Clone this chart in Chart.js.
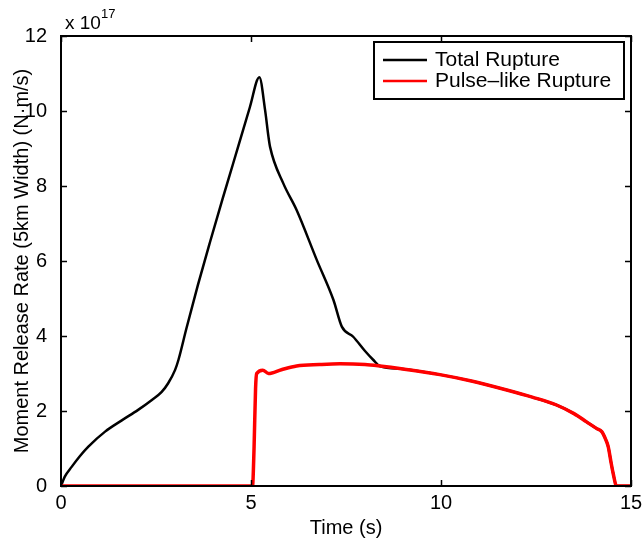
<!DOCTYPE html>
<html>
<head>
<meta charset="utf-8">
<script src="https://cdn.jsdelivr.net/npm/chart.js@4.4.1/dist/chart.umd.min.js"></script>
<style>
  html, body { margin: 0; padding: 0; background: #fff; }
  #wrap { width: 644px; height: 539px; }
</style>
</head>
<body>
<div id="wrap"><canvas id="momentChart" width="644" height="539"></canvas></div>
<script>
// =====================
// DATA (moment rate in units of 1e17 N·m/s)
// =====================
const totalTime = [0, 0.1, 0.28, 0.5, 0.72, 1.16, 1.6, 2.03, 2.4, 2.65, 2.82, 3.0, 3.09, 3.3, 3.6, 3.92, 4.25, 4.53, 4.97, 5.22,
  5.37, 5.46, 5.5, 5.85, 6.2, 6.73, 7.17, 7.39, 7.69, 8.0, 8.22, 8.39, 9.0, 9.97, 10.8, 11.73, 12.4, 13.04, 13.5, 13.83, 14.1,
  14.23, 14.33, 14.4, 14.48, 14.53, 14.62, 15];
const totalRate = [0, 0.25, 0.51, 0.8, 1.05, 1.45, 1.75, 2.03, 2.3, 2.51, 2.74, 3.09, 3.36, 4.2, 5.35, 6.5, 7.65, 8.6, 10.1, 10.9,
  10.03, 9.31, 9.05, 8.07, 7.36, 6.03, 4.96, 4.25, 3.98, 3.6, 3.36, 3.2, 3.12, 2.97, 2.8, 2.56, 2.37, 2.16, 1.93, 1.71, 1.53,
  1.45, 1.25, 1.05, 0.6, 0.34, 0, 0];

const pulseTime = [0, 5.04, 5.08, 5.12, 5.15, 5.31, 5.46, 5.8, 6.2, 6.8, 7.34, 8.0, 8.39, 9.0, 9.97, 10.8, 11.73, 12.4, 13.04,
  13.5, 13.83, 14.1, 14.23, 14.33, 14.4, 14.48, 14.53, 14.62, 15];
const pulseRate = [0, 0, 1.0, 2.6, 3.0, 3.09, 3.0, 3.1, 3.2, 3.24, 3.26, 3.24, 3.2, 3.12, 2.97, 2.8, 2.56, 2.37, 2.16,
  1.93, 1.71, 1.53, 1.45, 1.25, 1.05, 0.6, 0.34, 0, 0];

const xTicks = [0, 5, 10, 15];
const yTicks = [0, 2, 4, 6, 8, 10, 12];
const seriesNames = ["Total Rupture", "Pulse\u2013like Rupture"];
const seriesColors = ["#000000", "#ff0000"];

const FONT = "'Liberation Sans', Arial, Helvetica, sans-serif";

function toPoints(xs, ys) {
  return xs.map((x, i) => ({ x: x, y: ys[i] }));
}

// =====================
// PLUGIN: box, inward ticks, exponent, legend
// =====================
const matlabFrame = {
  id: "matlabFrame",
  afterDatasetsDraw(chart) {
    const ctx = chart.ctx;
    const a = chart.chartArea;
    const xs = chart.scales.x;
    const ys = chart.scales.y;
    const tl = 6;

    ctx.save();
    ctx.strokeStyle = "#000";
    ctx.lineWidth = 2;
    ctx.strokeRect(a.left, a.top, a.right - a.left, a.bottom - a.top);

    ctx.lineWidth = 1.5;
    ctx.beginPath();
    xTicks.forEach(t => {
      const px = Math.round(xs.getPixelForValue(t)) + 0.5;
      ctx.moveTo(px, a.bottom); ctx.lineTo(px, a.bottom - tl);
      ctx.moveTo(px, a.top); ctx.lineTo(px, a.top + tl);
    });
    yTicks.forEach(t => {
      const py = Math.round(ys.getPixelForValue(t)) + 0.5;
      ctx.moveTo(a.left, py); ctx.lineTo(a.left + tl, py);
      ctx.moveTo(a.right, py); ctx.lineTo(a.right - tl, py);
    });
    ctx.stroke();

    // exponent label
    ctx.fillStyle = "#000";
    ctx.textBaseline = "alphabetic";
    ctx.textAlign = "left";
    ctx.font = "19px " + FONT;
    ctx.fillText("x 10", a.left + 4, a.top - 7);
    const w = ctx.measureText("x 10").width;
    ctx.font = "13px " + FONT;
    ctx.fillText("17", a.left + 4 + w, a.top - 18);

    // legend
    const lx = 374, ly = 42, lw = 250, lh = 57;
    ctx.fillStyle = "#fff";
    ctx.fillRect(lx, ly, lw, lh);
    ctx.lineWidth = 2;
    ctx.strokeStyle = "#000";
    ctx.strokeRect(lx, ly, lw, lh);
    ctx.font = "21px " + FONT;
    ctx.textBaseline = "middle";
    seriesNames.forEach((name, i) => {
      const y = ly + 18 + i * 21;
      ctx.strokeStyle = seriesColors[i];
      ctx.lineWidth = 2.5;
      ctx.beginPath();
      ctx.moveTo(lx + 9, y); ctx.lineTo(lx + 53, y);
      ctx.stroke();
      ctx.fillStyle = "#000";
      ctx.fillText(name, lx + 61, y);
    });
    ctx.restore();
  }
};

// =====================
// CHART
// =====================
const ctxMoment = document.getElementById("momentChart");
new Chart(ctxMoment, {
  type: "line",
  data: {
    datasets: [
      {
        label: seriesNames[0],
        data: toPoints(totalTime, totalRate),
        borderColor: seriesColors[0],
        borderWidth: 2.5,
        pointRadius: 0,
        cubicInterpolationMode: "monotone",
        order: 2
      },
      {
        label: seriesNames[1],
        data: toPoints(pulseTime, pulseRate),
        borderColor: seriesColors[1],
        borderWidth: 3.5,
        pointRadius: 0,
        cubicInterpolationMode: "monotone",
        order: 1
      }
    ]
  },
  options: {
    responsive: false,
    animation: false,
    layout: { padding: { left: 0, top: 36, right: 13, bottom: 0 } },
    plugins: {
      legend: { display: false },
      tooltip: { enabled: false }
    },
    scales: {
      x: {
        type: "linear",
        min: 0,
        max: 15,
        grid: { display: false },
        border: { display: false },
        afterFit(scale) { scale.height = 53; scale.paddingLeft = 0; scale.paddingRight = 0; },
        afterBuildTicks(scale) { scale.ticks = xTicks.map(v => ({ value: v })); },
        ticks: { color: "#000", padding: -3, font: { family: FONT, size: 20 }, maxRotation: 0 },
        title: { display: true, text: "Time (s)", color: "#000", padding: { top: 0, bottom: -1 }, font: { family: FONT, size: 20 } }
      },
      y: {
        type: "linear",
        min: 0,
        max: 12,
        grid: { display: false },
        border: { display: false },
        afterFit(scale) { scale.width = 61; scale.paddingTop = 0; scale.paddingBottom = 0; },
        afterBuildTicks(scale) { scale.ticks = yTicks.map(v => ({ value: v })); },
        ticks: { color: "#000", padding: 6, font: { family: FONT, size: 20 } },
        title: { display: true, text: "Moment Release Rate (5km Width) (N\u00b7m/s)", color: "#000", padding: { top: 10, bottom: 0 }, font: { family: FONT, size: 20 } }
      }
    }
  },
  plugins: [matlabFrame]
});
</script>
</body>
</html>
